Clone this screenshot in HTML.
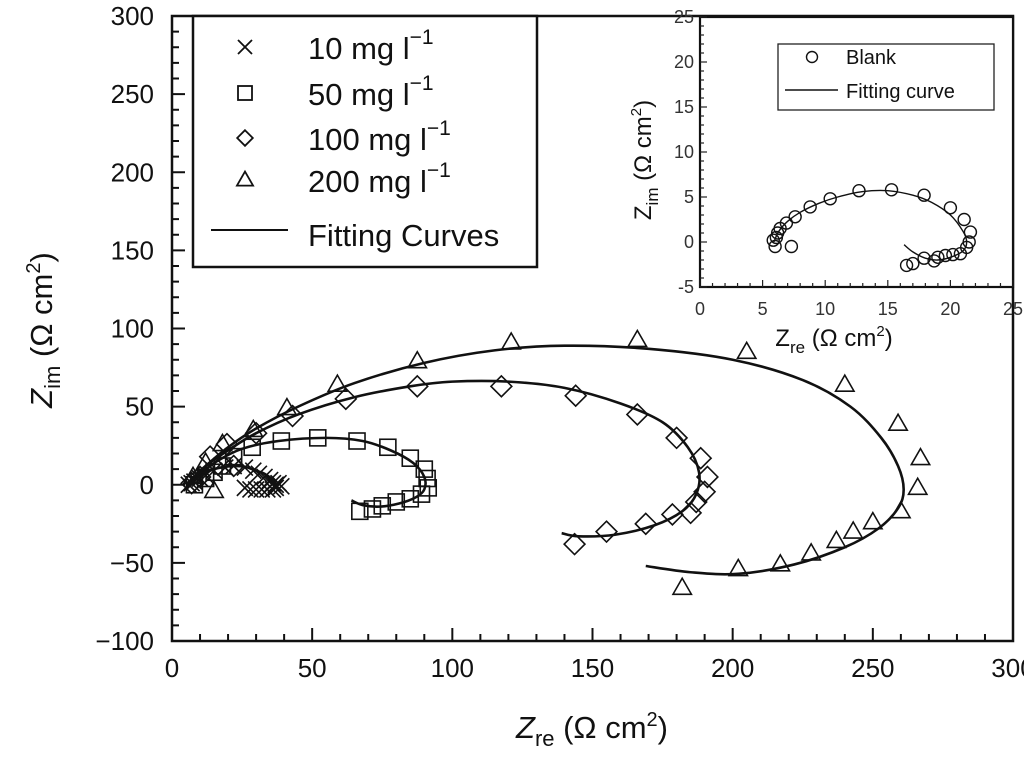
<!DOCTYPE html>
<html><head><meta charset="utf-8"><style>
body{margin:0;background:#fff}
svg{display:block;font-family:"Liberation Sans",sans-serif}
</style></head><body>
<svg width="1024" height="759" viewBox="0 0 1024 759">
<g id="main"></g>
<g id="inset"></g>
</svg>
<script>
// main chart data
const xTicks=[0,50,100,150,200,250,300];
const yTicks=[-100,-50,0,50,100,150,200,250,300];
const s10x=[6,7,8,10,12,15,19,22,26,29,31,33,35,36,37,37,36,34,32,30,28,26,38,39];
const s10y=[0,1,2,4,6,9,11,12,11,9,7,5,3,1,0,-2,-3,-3,-3,-3,-3,-2,1,-1];
const s50x=[8,12,15,18,22,28.6,39,52,66,77,85,90,91,91.4,89,85,80,75,71.5,67];
const s50y=[0,4,8,12,18,24,28,30,28,24,17,10,4,-2,-6,-9,-11,-13.5,-15.5,-17];
const s100x=[7,10,13.6,19.6,22,30,43,62,87.5,117.5,144,166,180,188.6,191,190,187,185,178.5,169,155,143.6];
const s100y=[1,5,18,26,12,33,44,55,63,63,57,45,30,17,5,-4.5,-11,-18,-19,-25,-30,-38];
const s200x=[7.5,12,15,18,29,41,59,87.5,121,166,205,240,259,267,266,260,250,243,237,228,217,202,182];
const s200y=[5,14,-4,26,35,49,64,79,91,92.6,85,64,39,17,-2,-17,-24,-30,-36,-44,-51,-54,-66];
const f10x=[5,8,10,15,19,22,26,30,33,36,37,36.5];
const f10y=[0,4,6,10,11.5,12,11.5,9,7,3,0,-2];
const f50x=[5,10,16,25,38,55,68,78,86,90,90,87,81,74,68,64];
const f50y=[0,7,15,23,28,30,28,22,14,5,-3,-8,-12,-14,-13,-10];
const f100x=[5,12,20,30,45,65,85,100,120,140,160,175,184,188,187,182,172,158,145,139];
const f100y=[0,12,22,33,45,56,63,66,66,62,52,40,24,8,-6,-17,-26,-32,-33,-31];
const f200x=[5,12,20,30,45,65,90,115,140,170,200,225,242,253,259,261,259,252,240,222,202,185,169];
const f200y=[0,12,24,36,50,65,78,86,89,87,80,67,50,30,12,-3,-15,-28,-40,-51,-57,-56,-52];
// inset data
const ixTicks=[0,5,10,15,20,25];
const iyTicks=[-5,0,5,10,15,20,25];
const bx=[5.85,6,6.1,6.2,6.4,7.3,6.9,7.6,8.8,10.4,12.7,15.3,17.9,20,21.1,21.6,21.5,21.3,20.8,20.2,19.6,19,18.7,17.9,17,16.5];
const by=[0.2,-0.5,0.5,1,1.5,-0.5,2.1,2.8,3.9,4.8,5.7,5.8,5.2,3.8,2.5,1.1,0,-0.6,-1.3,-1.4,-1.5,-1.7,-2.1,-1.8,-2.4,-2.6];
const fbx=[5.9,6.3,7,8,9.5,11,13,15,17,18.5,20,21,21.3,21,20,19,18,17,16.3];
const fby=[0,1.2,2.3,3.3,4.3,5,5.6,5.7,5.2,4.4,3,1.2,0,-1,-1.7,-2,-1.8,-1.1,-0.3];

const NS="http://www.w3.org/2000/svg";
function mk(t,a,p){const e=document.createElementNS(NS,t);for(const k in a)e.setAttribute(k,a[k]);p.appendChild(e);return e;}
const X=v=>172+v*(1013-172)/300, Y=v=>641-(v+100)*(641-16)/400;
const IX=v=>700+v*(1013-700)/25, IY=v=>287-(v+5)*(287-17)/30;
const M=document.getElementById('main'), I=document.getElementById('inset');

function smooth(xs,ys,fx,fy){let pts=xs.map((x,i)=>[fx(x),fy(ys[i])]);let d='M'+pts[0][0]+','+pts[0][1];
for(let i=0;i<pts.length-1;i++){const p0=pts[Math.max(0,i-1)],p1=pts[i],p2=pts[i+1],p3=pts[Math.min(pts.length-1,i+2)];
d+=' C'+(p1[0]+(p2[0]-p0[0])/6)+','+(p1[1]+(p2[1]-p0[1])/6)+' '+(p2[0]-(p3[0]-p1[0])/6)+','+(p2[1]-(p3[1]-p1[1])/6)+' '+p2[0]+','+p2[1];}return d;}
function marker(type,cx,cy,r,p,sw){let e;
if(type==='x'){e=mk('path',{d:`M${cx-r},${cy-r}L${cx+r},${cy+r}M${cx-r},${cy+r}L${cx+r},${cy-r}`,stroke:'#111','stroke-width':sw||1.6,fill:'none'},p);}
else if(type==='s'){e=mk('rect',{x:cx-r,y:cy-r,width:2*r,height:2*r,fill:'none',stroke:'#111','stroke-width':sw||1.6},p);}
else if(type==='d'){r*=1.3;e=mk('path',{d:`M${cx},${cy-r}L${cx+r},${cy}L${cx},${cy+r}L${cx-r},${cy}Z`,fill:'none',stroke:'#111','stroke-width':sw||1.6},p);}
else if(type==='t'){e=mk('path',{d:`M${cx},${cy-r*1.2}L${cx+r*1.15},${cy+r*0.8}L${cx-r*1.15},${cy+r*0.8}Z`,fill:'none',stroke:'#111','stroke-width':sw||1.6},p);}
else {e=mk('circle',{cx,cy,r,fill:'none',stroke:'#111','stroke-width':sw||1.4},p);}
return e;}

// main frame
const fr=mk('rect',{x:172,y:16,width:841,height:625,fill:'none',stroke:'#111','stroke-width':2.5},M);

for(let v=0;v<=300;v+=10){const maj=v%50===0;const t=mk('line',{x1:X(v),x2:X(v),y1:641,y2:641-(maj?13:7),stroke:'#111','stroke-width':2},M);
}
for(let v=-100;v<=300;v+=10){const maj=v%50===0;const t=mk('line',{x1:172,x2:172+(maj?13:7),y1:Y(v),y2:Y(v),stroke:'#111','stroke-width':2},M);
}
xTicks.forEach(v=>{const t=mk('text',{x:X(v),y:677,'text-anchor':'middle','font-size':26,fill:'#111'},M);t.textContent=v;
});
yTicks.forEach(v=>{const t=mk('text',{x:154,y:Y(v)+9,'text-anchor':'end','font-size':26,fill:'#111'},M);t.textContent=v<0?'\u2212'+(-v):v;
});
let xt=mk('text',{x:592,y:738,'text-anchor':'middle','font-size':31,fill:'#111'},M);
xt.innerHTML='<tspan font-style="italic">Z</tspan><tspan font-size="22" dy="8">re</tspan><tspan dy="-8"> (Ω cm</tspan><tspan font-size="20" dy="-12">2</tspan><tspan dy="12">)</tspan>';

let yt=mk('text',{x:0,y:0,'text-anchor':'middle','font-size':31,fill:'#111',transform:'translate(52,330) rotate(-90)'},M);
yt.innerHTML='<tspan font-style="italic">Z</tspan><tspan font-size="22" dy="8">im</tspan><tspan dy="-8"> (Ω cm</tspan><tspan font-size="20" dy="-12">2</tspan><tspan dy="12">)</tspan>';


// curves
[[f10x,f10y,'fit-10'],[f50x,f50y,'fit-50'],[f100x,f100y,'fit-100'],[f200x,f200y,'fit-200']].forEach(([xs,ys,n])=>{
const p=mk('path',{d:smooth(xs,ys,X,Y),fill:'none',stroke:'#111','stroke-width':2.6},M);});
// markers
[[s10x,s10y,'x','points-10'],[s50x,s50y,'s','points-50'],[s100x,s100y,'d','points-100'],[s200x,s200y,'t','points-200']].forEach(([xs,ys,t,n])=>{
xs.forEach((x,i)=>{const e=marker(t,X(x),Y(ys[i]),t==='x'?8:8,M);});});

// main legend
const lg=mk('rect',{x:193,y:16,width:344,height:251,fill:'#fff',stroke:'#111','stroke-width':2.5},M);

const labels=['10','50','100','200'],types=['x','s','d','t'],ly=[47,93,138,180];
labels.forEach((l,i)=>{const m=marker(types[i],245,ly[i],types[i]==='d'?6:7,M,1.8);
const t=mk('text',{x:308,y:ly[i]+12,'font-size':31,fill:'#111'},M);t.innerHTML=l+' mg l<tspan font-size="21" dy="-15">−1</tspan>';
});
let ll=mk('line',{x1:211,x2:288,y1:230,y2:230,stroke:'#111','stroke-width':2},M);
let lt=mk('text',{x:308,y:246,'font-size':31,fill:'#111'},M);lt.textContent='Fitting Curves';

// inset
const ir=mk('rect',{x:700,y:17,width:313,height:270,fill:'#fff',stroke:'#111','stroke-width':2.2},I);

for(let v=0;v<=25;v+=1){const maj=v%5===0;const t=mk('line',{x1:IX(v),x2:IX(v),y1:287,y2:287-(maj?7:4),stroke:'#222','stroke-width':1.2},I);
}
for(let v=-5;v<=25;v+=1){const maj=v%5===0;const t=mk('line',{x1:700,x2:700+(maj?7:4),y1:IY(v),y2:IY(v),stroke:'#222','stroke-width':1.2},I);
}
ixTicks.forEach(v=>{const t=mk('text',{x:IX(v),y:315,'text-anchor':'middle','font-size':18,fill:'#333'},I);t.textContent=v;
});
iyTicks.forEach(v=>{const t=mk('text',{x:694,y:IY(v)+6,'text-anchor':'end','font-size':18,fill:'#333'},I);t.textContent=v;
});
let ixt=mk('text',{x:834,y:346,'text-anchor':'middle','font-size':24,fill:'#111'},I);
ixt.innerHTML='Z<tspan font-size="17" dy="7">re</tspan><tspan dy="-7"> (Ω cm</tspan><tspan font-size="15" dy="-10">2</tspan><tspan dy="10">)</tspan>';

let iyt=mk('text',{x:0,y:0,'text-anchor':'middle','font-size':24,fill:'#111',transform:'translate(651,160) rotate(-90)'},I);
iyt.innerHTML='Z<tspan font-size="17" dy="7">im</tspan><tspan dy="-7"> (Ω cm</tspan><tspan font-size="15" dy="-10">2</tspan><tspan dy="10">)</tspan>';

let ic=mk('path',{d:smooth(fbx,fby,IX,IY),fill:'none',stroke:'#111','stroke-width':1.4},I);
bx.forEach((x,i)=>{const e=marker('o',IX(x),IY(by[i]),6,I);});
const il=mk('rect',{x:778,y:44,width:216,height:66,fill:'#fff',stroke:'#222','stroke-width':1.3},I);

let im=marker('o',812,57,5.5,I);
let it1=mk('text',{x:846,y:64,'font-size':20,fill:'#111'},I);it1.textContent='Blank';
let il2=mk('line',{x1:785,x2:838,y1:90,y2:90,stroke:'#111','stroke-width':1.4},I);
let it2=mk('text',{x:846,y:98,'font-size':20,fill:'#111'},I);it2.textContent='Fitting curve';
</script>
</body></html>
